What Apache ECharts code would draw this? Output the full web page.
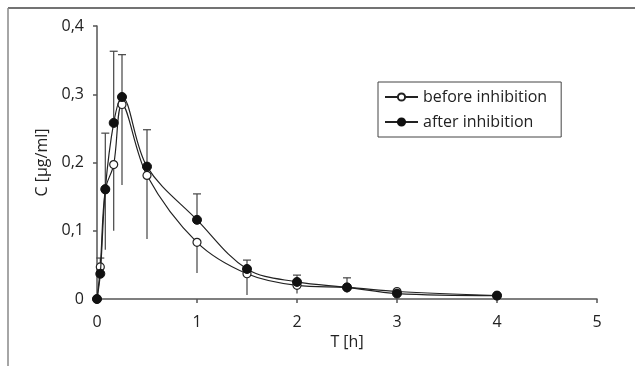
<!DOCTYPE html>
<html>
<head>
<meta charset="utf-8">
<script src="https://cdn.jsdelivr.net/npm/echarts@6/dist/echarts.min.js"></script>
<style>
html,body{margin:0;padding:0;background:#fff;}
#chart{width:635px;height:366px;}
</style>
</head>
<body>
<div id="chart"></div>
<script>
// Data
var times = [0, 0.033, 0.083, 0.167, 0.25, 0.5, 1, 1.5, 2, 2.5, 3, 4];
var before = [0, 0.047, 0.16, 0.197, 0.285, 0.181, 0.083, 0.037, 0.020, 0.017, 0.011, 0.005];
var after = [0, 0.037, 0.161, 0.258, 0.296, 0.194, 0.116, 0.044, 0.025, 0.017, 0.008, 0.005];
// error bar ends: upper ends for "after", lower ends for "before" (null = none)
var afterUpper = [null, 0.060, 0.243, 0.363, 0.358, 0.248, 0.154, 0.057, 0.035, 0.031, null, null];
var beforeLower = [null, null, 0.072, 0.100, 0.167, 0.088, 0.038, 0.006, 0.008, 0.009, null, null];
var yTicks = ['0', '0,1', '0,2', '0,3', '0,4'];
var xTicks = ['0', '1', '2', '3', '4', '5'];

var FONT = 'Open Sans';
var FS = 16;

function pairs(ys) { return times.map(function (t, i) { return [t, ys[i]]; }); }

var errData = [];
times.forEach(function (t, i) {
  if (afterUpper[i] !== null) errData.push([t, after[i], afterUpper[i], 1]);
  if (beforeLower[i] !== null) errData.push([t, before[i], beforeLower[i], 0]);
});

var chart = echarts.init(document.getElementById('chart'));
chart.setOption({
  animation: false,
  backgroundColor: '#fff',
  textStyle: { fontFamily: FONT },
  grid: { left: 97, right: 38, top: 26, bottom: 67 },
  xAxis: {
    type: 'value', min: 0, max: 5, interval: 1,
    name: 'T [h]', nameLocation: 'middle', nameGap: 33,
    nameTextStyle: { color: '#222', fontSize: FS, fontFamily: FONT },
    axisLine: { lineStyle: { color: '#555', width: 1.5 } },
    axisTick: { show: true, length: 4, lineStyle: { color: '#555', width: 1.5 } },
    axisLabel: { color: '#222', fontSize: FS, fontFamily: FONT, margin: 15,
      formatter: function (v) { return xTicks[Math.round(v)]; } },
    splitLine: { show: false }
  },
  yAxis: {
    type: 'value', min: 0, max: 0.4, interval: 0.1,
    name: 'C [µg/ml]', nameLocation: 'middle', nameGap: 43,
    nameTextStyle: { color: '#222', fontSize: FS, fontFamily: FONT },
    axisLine: { show: true, lineStyle: { color: '#555', width: 1.5 } },
    axisTick: { show: true, length: 4, lineStyle: { color: '#555', width: 1.5 } },
    axisLabel: { color: '#222', fontSize: FS, fontFamily: FONT, margin: 13,
      formatter: function (v) { return yTicks[Math.round(v * 10)]; } },
    splitLine: { show: false }
  },
  legend: {
    left: 378, top: 82, orient: 'vertical',
    itemWidth: 33, itemHeight: 9, itemGap: 9,
    padding: [7, 14, 7, 6],
    borderColor: '#444', borderWidth: 1,
    textStyle: { color: '#222', fontSize: FS, fontFamily: FONT },
    data: ['before inhibition', 'after inhibition']
  },
  series: [
    {
      name: 'errors', type: 'custom', z: 1,
      data: errData,
      renderItem: function (params, api) {
        var x = api.value(0), y0 = api.value(1), y1 = api.value(2), up = api.value(3);
        var p0 = api.coord([x, y0]);
        var p1 = api.coord([x, y1]);
        var children = [{
          type: 'line', shape: { x1: p0[0], y1: p0[1], x2: p1[0], y2: p1[1] },
          style: { stroke: '#444', lineWidth: 1.2 }
        }];
        if (up === 1) {
          children.push({
            type: 'line', shape: { x1: p1[0] - 4, y1: p1[1], x2: p1[0] + 4, y2: p1[1] },
            style: { stroke: '#444', lineWidth: 1.2 }
          });
        }
        return { type: 'group', children: children };
      },
      tooltip: { show: false }
    },
    {
      name: 'before inhibition', type: 'line', z: 2,
      data: pairs(before), smooth: 0.35,
      symbol: 'circle', symbolSize: 8,
      lineStyle: { color: '#222', width: 1.2 },
      itemStyle: { color: '#fff', borderColor: '#222', borderWidth: 1.2 }
    },
    {
      name: 'after inhibition', type: 'line', z: 3,
      data: pairs(after), smooth: 0.35,
      symbol: 'circle', symbolSize: 9,
      lineStyle: { color: '#222', width: 1.2 },
      itemStyle: { color: '#111', borderColor: '#111', borderWidth: 1 }
    }
  ],
  graphic: [
    { type: 'line', shape: { x1: 8, y1: 8, x2: 635, y2: 8 }, style: { stroke: '#444', lineWidth: 1.5 } },
    { type: 'line', shape: { x1: 8, y1: 8, x2: 8, y2: 366 }, style: { stroke: '#888', lineWidth: 1.5 } }
  ]
});
</script>
</body>
</html>
